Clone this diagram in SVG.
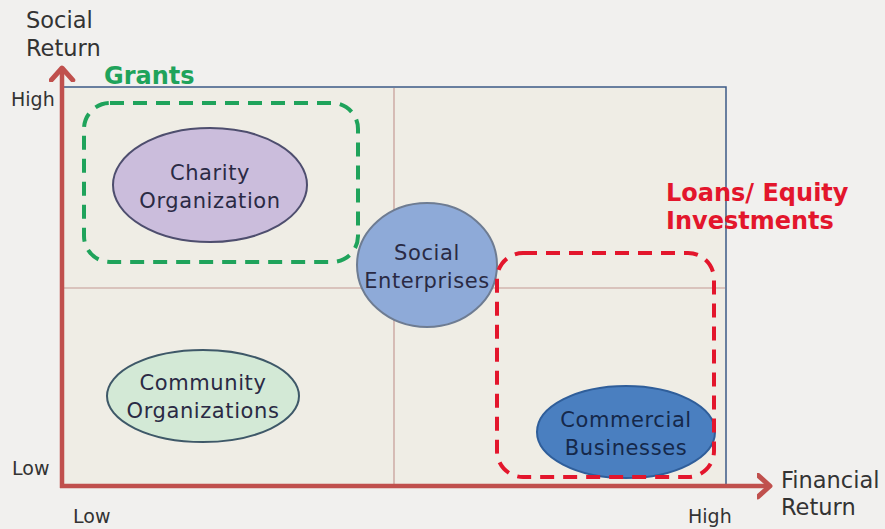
<svg xmlns="http://www.w3.org/2000/svg" width="885" height="529" viewBox="0 0 885 529">
<defs>
<style>
.t{font-family:"DejaVu Sans","Liberation Sans",sans-serif;fill:#333}
.n{font-family:"DejaVu Sans","Liberation Sans",sans-serif;font-size:21px;letter-spacing:0.6px;fill:#2a2a44;text-anchor:middle}
.q{stroke:#c49a94;stroke-width:1.2;fill:none}
.ax{stroke:#c0504d;stroke-width:4.5;fill:none}
.b{font-size:24px;font-weight:bold}
.s{font-size:19px}
.m{font-size:22.5px}
</style>
<marker id="ah" markerWidth="6" markerHeight="6" refX="3" refY="3" orient="auto" markerUnits="strokeWidth">
<path d="M0.3,0.6 L3,3 L0.3,5.4" fill="none" stroke="#c0504d" stroke-width="1.1" stroke-linecap="round" stroke-linejoin="round"/>
</marker>
</defs>
<rect width="885" height="529" fill="#f1f0ee"/>
<g id="chart">
<rect x="62" y="87" width="664" height="399" fill="#efede5" stroke="#3d5a86" stroke-width="1.5"/>
<line class="q" x1="394" y1="88" x2="394" y2="485"/>
<line class="q" x1="63" y1="288" x2="725" y2="288"/>
</g>
<g id="axes">
<line class="ax" x1="62" y1="488" x2="62" y2="68" marker-end="url(#ah)"/>
<line class="ax" x1="60" y1="486" x2="770" y2="486" marker-end="url(#ah)"/>
</g>
<g id="grants">
<rect x="84" y="103" width="274" height="159" rx="26" fill="none" stroke="#1fa35b" stroke-width="4" stroke-dasharray="14 9"/>
<text class="t b" x="104" y="84" style="fill:#1fa35b">Grants</text>
</g>
<g id="charity">
<ellipse cx="210" cy="185" rx="97" ry="57" fill="#cbbddc" stroke="#4e4e6e" stroke-width="2"/>
<text class="n" x="210" y="180">Charity</text>
<text class="n" x="210" y="208">Organization</text>
</g>
<g id="social">
<ellipse cx="427" cy="265" rx="70" ry="62" fill="#8eaad8" stroke="#6e7c92" stroke-width="2"/>
<text class="n" x="427" y="260">Social</text>
<text class="n" x="427" y="288">Enterprises</text>
</g>
<g id="community">
<ellipse cx="203" cy="396" rx="96" ry="46" fill="#d3e9d6" stroke="#3e5868" stroke-width="2"/>
<text class="n" x="203" y="390">Community</text>
<text class="n" x="203" y="418">Organizations</text>
</g>
<g id="commercial">
<ellipse cx="626" cy="432" rx="89" ry="46" fill="#4a7fc0" stroke="#2f5e9a" stroke-width="2"/>
<text class="n" x="626" y="427" style="fill:#15284a">Commercial</text>
<text class="n" x="626" y="455" style="fill:#15284a">Businesses</text>
</g>
<g id="loans">
<rect x="497" y="253" width="217" height="224" rx="26" fill="none" stroke="#e3162c" stroke-width="4" stroke-dasharray="14 9"/>
<text class="t b" x="666" y="201" style="fill:#e3162c">Loans/ Equity</text>
<text class="t b" x="666" y="229" style="fill:#e3162c">Investments</text>
</g>
<g id="labels">
<text class="t m" x="26" y="28">Social</text>
<text class="t m" x="26" y="56">Return</text>
<text class="t s" x="11" y="106">High</text>
<text class="t s" x="12" y="475">Low</text>
<text class="t s" x="73" y="523">Low</text>
<text class="t s" x="688" y="523">High</text>
<text class="t m" x="781" y="488">Financial</text>
<text class="t m" x="781" y="515">Return</text>
</g>
</svg>
